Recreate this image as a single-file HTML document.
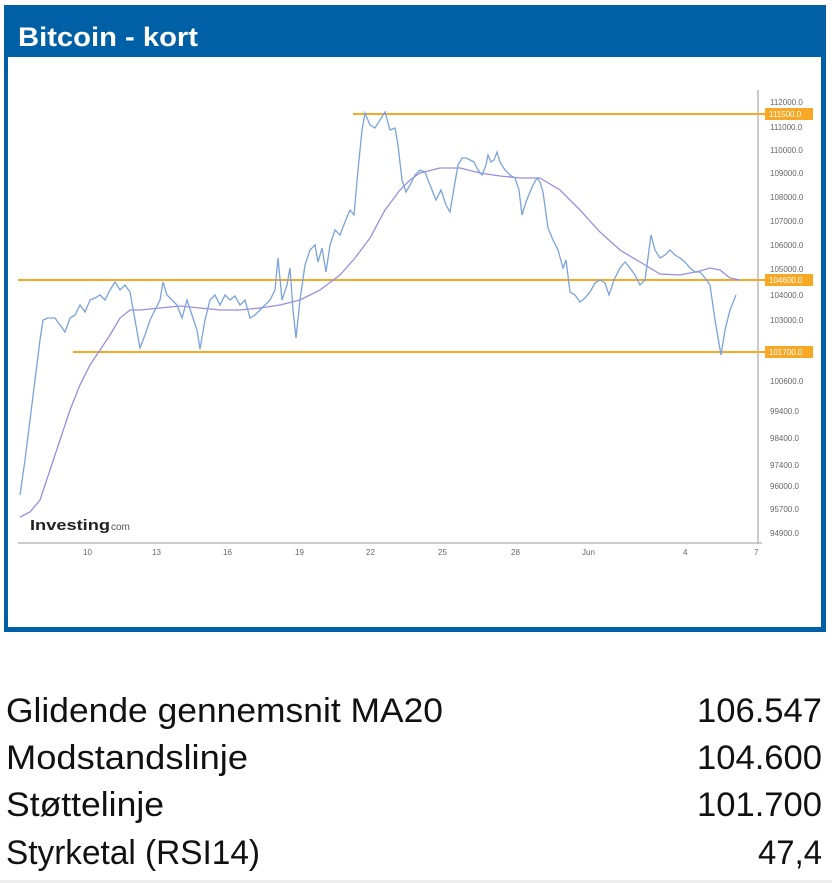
<!DOCTYPE html>
<html><head><meta charset="utf-8"><style>
html,body{margin:0;padding:0;background:#fff;width:832px;height:883px;overflow:hidden}
</style></head><body>
<svg width="832" height="883" viewBox="0 0 832 883" xmlns="http://www.w3.org/2000/svg">
<rect x="4" y="5" width="822" height="627" fill="#0060a6"/>
<rect x="8" y="57" width="813" height="570" fill="#fff"/>
<text x="18" y="46" font-family="Liberation Sans, sans-serif" font-weight="bold" font-size="27" fill="#fff" textLength="180" lengthAdjust="spacingAndGlyphs">Bitcoin - kort</text>
<line x1="758" y1="90" x2="758" y2="544" stroke="#bbb" stroke-width="1.5"/>
<line x1="18" y1="543" x2="762" y2="543" stroke="#bbb" stroke-width="1.5"/>
<g font-family="Liberation Sans, sans-serif" font-size="8" fill="#666">
<text x="770" y="105">112000.0</text>
<text x="770" y="130">111000.0</text>
<text x="770" y="153">110000.0</text>
<text x="770" y="176">109000.0</text>
<text x="770" y="200">108000.0</text>
<text x="770" y="224">107000.0</text>
<text x="770" y="248">106000.0</text>
<text x="770" y="272">105000.0</text>
<text x="770" y="298">104000.0</text>
<text x="770" y="323">103000.0</text>
<text x="770" y="384">100600.0</text>
<text x="770" y="414">99400.0</text>
<text x="770" y="441">98400.0</text>
<text x="770" y="468">97400.0</text>
<text x="770" y="489">96000.0</text>
<text x="770" y="512">95700.0</text>
<text x="770" y="536">94900.0</text>
<text x="83" y="555">10</text><text x="152" y="555">13</text><text x="223" y="555">16</text>
<text x="295" y="555">19</text><text x="366" y="555">22</text><text x="438" y="555">25</text>
<text x="511" y="555">28</text><text x="582" y="555">Jun</text><text x="683" y="555">4</text><text x="754" y="555">7</text>
</g>
<g stroke="#f9a825" stroke-width="2">
<line x1="353" y1="114" x2="765" y2="114"/>
<line x1="18" y1="280" x2="765" y2="280"/>
<line x1="73" y1="352" x2="765" y2="352"/>
</g>
<g font-family="Liberation Sans, sans-serif" font-size="8" fill="#fff">
<rect x="765" y="108" width="48" height="12" fill="#f9a825"/><text x="769" y="117">111500.0</text>
<rect x="765" y="274" width="48" height="12" fill="#f9a825"/><text x="769" y="283">104600.0</text>
<rect x="765" y="346" width="48" height="12" fill="#f9a825"/><text x="769" y="355">101700.0</text>
</g>
<polyline fill="none" stroke="#9a8de0" stroke-width="1.3" points="20,517 30,512 40,500 50,470 60,440 70,410 80,385 90,365 100,350 110,335 120,318 130,310 140,310 160,308 180,306 200,308 220,310 240,310 260,308 280,305 300,300 320,290 340,275 355,258 370,238 385,210 400,190 410,180 420,173 440,168 460,168 480,173 500,176 520,178 540,178 560,190 580,210 600,232 620,250 640,262 660,274 680,275 700,271 710,268 720,270 730,278 740,280"/>
<polyline fill="none" stroke="#7aa3dc" stroke-width="1.3" points="20,495 25,460 30,420 35,380 40,340 43,320 48,318 55,318 60,325 65,332 70,318 75,315 80,305 85,312 90,300 95,298 100,295 105,300 110,290 115,282 120,290 125,285 130,292 135,320 140,348 145,335 150,320 155,310 160,300 163,282 167,295 172,300 177,305 182,318 187,300 192,315 197,330 200,349 205,320 210,300 215,295 220,305 225,295 230,300 235,296 240,305 245,300 250,318 255,315 260,310 265,305 270,300 275,290 278,258 282,300 287,285 290,268 293,310 296,338 300,300 305,265 310,250 315,245 318,262 322,248 326,272 330,245 335,230 340,235 345,222 350,210 354,215 358,170 362,130 365,113 370,125 375,128 380,120 385,112 390,130 395,128 398,145 402,180 406,192 410,185 415,175 420,170 425,172 430,185 436,200 441,190 446,205 450,212 454,188 458,165 462,158 466,158 470,160 474,162 478,170 482,175 486,165 488,155 491,162 494,160 497,152 500,162 505,170 510,175 515,178 519,190 522,215 526,202 530,192 533,185 537,178 540,182 543,192 548,228 553,240 558,250 563,268 566,260 570,292 575,295 580,302 585,298 590,292 595,283 600,280 605,283 609,295 614,280 620,268 625,262 630,268 635,275 640,285 645,280 651,235 655,250 660,258 665,255 670,250 675,255 680,258 685,262 690,268 695,272 700,272 705,278 710,285 715,320 721,355 725,330 730,310 736,295"/>
<text x="30" y="530" font-family="Liberation Sans, sans-serif" font-weight="bold" font-size="15" fill="#222" textLength="80" lengthAdjust="spacingAndGlyphs">Investing</text>
<text x="111" y="530" font-family="Liberation Sans, sans-serif" font-size="10" fill="#555">com</text>
<g font-family="Liberation Sans, sans-serif" font-size="34" fill="#111">
<text x="6" y="722" textLength="437" lengthAdjust="spacingAndGlyphs">Glidende gennemsnit MA20</text>
<text x="6" y="769" textLength="242" lengthAdjust="spacingAndGlyphs">Modstandslinje</text>
<text x="6" y="816" textLength="158" lengthAdjust="spacingAndGlyphs">Støttelinje</text>
<text x="6" y="864" textLength="254" lengthAdjust="spacingAndGlyphs">Styrketal (RSI14)</text>
<g text-anchor="end">
<text x="822" y="722" textLength="125" lengthAdjust="spacingAndGlyphs">106.547</text>
<text x="822" y="769" textLength="125" lengthAdjust="spacingAndGlyphs">104.600</text>
<text x="822" y="816" textLength="125" lengthAdjust="spacingAndGlyphs">101.700</text>
<text x="822" y="864" textLength="64" lengthAdjust="spacingAndGlyphs">47,4</text>
</g></g>
<rect x="0" y="880" width="832" height="3" fill="#eee"/>
</svg>
</body></html>
